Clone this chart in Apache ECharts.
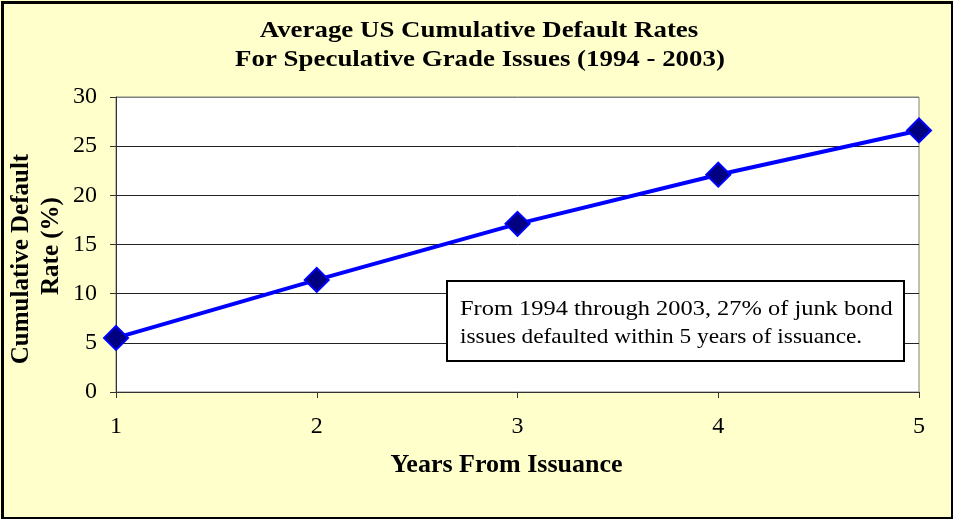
<!DOCTYPE html>
<html><head><meta charset="utf-8">
<script src="https://cdn.jsdelivr.net/npm/echarts@6/dist/echarts.min.js"></script>
<style>html,body{margin:0;padding:0;background:#FFFFCC}#c{width:953px;height:519px}</style>
</head><body><div id="c"></div>
<script>
const titleLines = ['Average US Cumulative Default Rates', 'For Speculative Grade Issues (1994 - 2003)'];
const years = [1, 2, 3, 4, 5];
const defaultRates = [5.5, 11.4, 17.1, 22.1, 26.6];
const yTicks = [0, 5, 10, 15, 20, 25, 30];
const xName = 'Years From Issuance';
const yNameLines = ['Cumulative Default', 'Rate (%)'];
const noteLines = ['From 1994 through 2003, 27% of junk bond', 'issues defaulted within 5 years of issuance.'];

const serif = '"Liberation Serif", "DejaVu Serif", serif';
const chart = echarts.init(document.getElementById('c'), null, {renderer: 'canvas'});

function stretchedText(text, x, y, sx, font, align, rot) {
  return {type: 'group', x: x, y: y, scaleX: sx, rotation: rot || 0, z: 60, silent: true, children: [
    {type: 'text', x: 0, y: 0, z: 60, style: {text: text, font: font, fill: '#000', textAlign: align, textVerticalAlign: 'middle'}}
  ]};
}

chart.setOption({
  backgroundColor: '#FFFFCC',
  animation: false,
  grid: {left: 116, right: 34, top: 97, bottom: 127, outerBoundsMode: 'none', containLabel: false,
         show: true, backgroundColor: '#fff', borderColor: '#808080', borderWidth: 1},
  xAxis: {
    type: 'value', min: 1, max: 5, interval: 1,
    name: xName, nameLocation: 'middle', nameGap: 60,
    nameTextStyle: {fontFamily: serif, fontWeight: 'bold', fontSize: 26, color: '#000', padding: [0, 22, 0, 0]},
    axisLine: {lineStyle: {color: '#333', width: 1}},
    axisTick: {show: true, length: 6, lineStyle: {color: '#333'}},
    axisLabel: {fontFamily: serif, fontSize: 24, color: '#000', margin: 23},
    splitLine: {show: false}
  },
  yAxis: {
    type: 'value', min: yTicks[0], max: yTicks[yTicks.length - 1], interval: 5,
    axisLine: {show: true, lineStyle: {color: '#333', width: 1}},
    axisTick: {show: true, length: 6, lineStyle: {color: '#333'}},
    axisLabel: {fontFamily: serif, fontSize: 24, color: '#000', margin: 19},
    splitLine: {show: true, lineStyle: {color: ['#333', '#222', '#222', '#222', '#222', '#222', '#808080'], width: 1}}
  },
  series: [{
    type: 'line',
    data: years.map((x, i) => [x, defaultRates[i]]),
    lineStyle: {color: '#0000FF', width: 4},
    symbol: 'diamond', symbolSize: 24,
    itemStyle: {color: '#000080', borderColor: '#0000FF', borderWidth: 2},
    z: 5
  }],
  graphic: [
    {type: 'rect', left: 0, top: 0, z: 100, silent: true,
     shape: {x: 1.5, y: 1.5, width: 950, height: 516}, style: {fill: 'none', stroke: '#000', lineWidth: 3}},
    stretchedText(titleLines[0], 479, 31, 1.12, 'bold 24px ' + serif, 'center'),
    stretchedText(titleLines[1], 480, 60, 1.12, 'bold 24px ' + serif, 'center'),
    stretchedText(yNameLines[0], 22, 259, 1.0, 'bold 25px ' + serif, 'center', Math.PI / 2),
    stretchedText(yNameLines[1], 52, 246, 1.0, 'bold 25px ' + serif, 'center', Math.PI / 2),
    {type: 'rect', x: 447, y: 281, z: 50, silent: true,
     shape: {x: 0, y: 0, width: 457, height: 80}, style: {fill: '#fff', stroke: '#000', lineWidth: 2}},
    stretchedText(noteLines[0], 460, 309, 1.11, '22px ' + serif, 'left'),
    stretchedText(noteLines[1], 460, 337, 1.06, '22px ' + serif, 'left')
  ]
});
</script></body></html>
